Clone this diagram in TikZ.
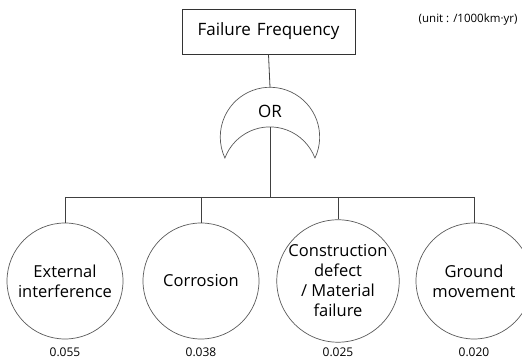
\documentclass[tikz,border=0pt]{standalone}
\usepackage{fontspec}
\setmainfont{Open Sans}
\begin{document}
\begin{tikzpicture}[x=1pt,y=1pt,
  line/.style={draw=black!75, line width=0.8pt},
  event/.style={circle, draw=black!65, line width=0.7pt, minimum size=116pt, inner sep=0pt, align=center, font=\fontsize{16.5}{20}\selectfont},
  topbox/.style={draw=black!80, line width=0.8pt, minimum width=173pt, minimum height=45pt, inner sep=0pt, font=\fontsize{17}{20}\selectfont},
  val/.style={font=\fontsize{12}{14}\selectfont},
]
\useasboundingbox (0,0) rectangle (522,363);
\node[topbox] (top) at (268.5,331.5) {Failure\hspace{0.35em}Frequency};
\node[font=\fontsize{11.5}{13}\selectfont, anchor=east] (unit) at (521,343) {(unit : /1000km·yr)};
% OR gate
\coordinate (gtop) at (270,275.7);
\coordinate (gin) at (270,236);
\draw[draw=black!65, line width=0.7pt] (315,205) arc[start angle=-25, end angle=205, radius=49.7] arc[start angle=159.3, end angle=20.7, radius=48.1] -- cycle;
\node[font=\fontsize{17}{20}\selectfont] (or) at (270,252) {OR};
\path[line] (top.south) -- (gtop);
% events
\node[event] (e1) at (65,82) {External\\interference};
\node[event] (e2) at (201,82) {Corrosion};
\node[event] (e3) at (338,82) {Construction\\defect\\/ Material\\failure};
\node[event] (e4) at (474,82) {Ground\\movement};
\coordinate (bus) at (270,166);
\path[line] (gin) -- (bus);
\path[line] (e1.north |- bus) -- (e4.north |- bus);
\foreach \e in {e1,e2,e3,e4}{\path[line] (\e.north |- bus) -- (\e.north);}
\node[val] (v1) at (65,11) {0.055};
\node[val] (v2) at (201,11) {0.038};
\node[val] (v3) at (338,11) {0.025};
\node[val] (v4) at (474,11) {0.020};
\end{tikzpicture}
\end{document}
